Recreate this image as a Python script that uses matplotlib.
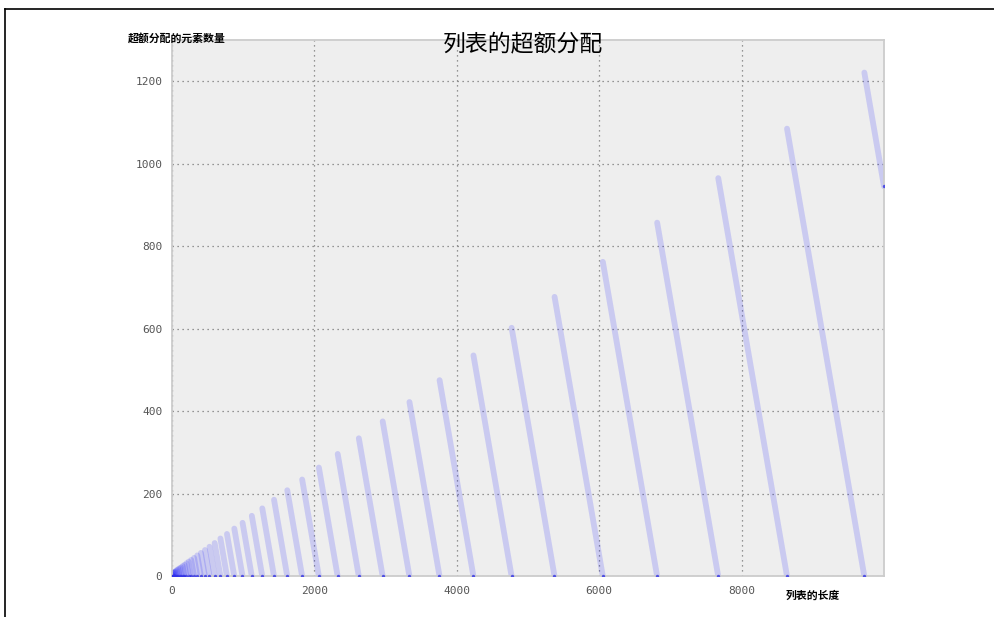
import matplotlib
matplotlib.use('Agg')
import matplotlib.pyplot as plt
from matplotlib.lines import Line2D

plt.rcParams['font.family'] = ['Noto Sans CJK SC', 'DejaVu Sans']

# 列表长度达到这些值时发生扩容, 以及扩容后的超额分配数量
resize_len = [1, 5, 9, 17, 26, 36, 47, 59, 73, 89, 107, 127, 149, 174, 202, 234,
              270, 310, 355, 406, 463, 527, 599, 680, 772, 875, 991, 1121, 1268,
              1433, 1619, 1828, 2063, 2327, 2624, 2959, 3335, 3758, 4234, 4770,
              5373, 6051, 6814, 7672, 8638, 9724]
over_alloc = [3, 3, 7, 8, 9, 10, 11, 13, 15, 17, 19, 21, 24, 27, 31, 35,
              39, 44, 50, 56, 63, 71, 80, 91, 102, 115, 129, 146, 164,
              185, 208, 234, 263, 296, 334, 375, 422, 475, 535, 602,
              677, 762, 857, 965, 1085, 1221]
max_len = 10000

fig = plt.figure(figsize=(9.95, 6.17), dpi=100)
ax = fig.add_axes([172/995, 41/617, 712/995, 536/617])
ax.set_facecolor('#eeeeee')

zx, zy = [], []
for L, p in zip(resize_len, over_alloc):
    end = min(L + p, max_len)
    ax.plot([L, end], [p, p - (end - L)], color='blue', alpha=0.15, lw=4.2,
            solid_capstyle='round', zorder=2)
    zx.append(end)
    zy.append(p - (end - L))
ax.scatter(zx, zy, s=6, color='#3030e8', alpha=0.8, zorder=3, linewidths=0)

ax.set_xlim(0, 10000)
ax.set_ylim(0, 1300)
ax.set_xticks([0, 2000, 4000, 6000, 8000])
ax.set_yticks([0, 200, 400, 600, 800, 1000, 1200])
ax.grid(True, linestyle=(0, (1, 3)), color='#777777', lw=0.9)
ax.set_axisbelow(True)
ax.tick_params(length=0, pad=7, labelsize=8, labelcolor='#555555')
for lab in ax.get_xticklabels() + ax.get_yticklabels():
    lab.set_family('DejaVu Sans Mono')
for s in ax.spines.values():
    s.set_color('#cccccc')
    s.set_linewidth(1.3)

fig.text(523/995, 1 - 44/617, '列表的超额分配', ha='center', va='center', fontsize=16.5)
fig.text(128/995, 1 - 38/617, '超额分配的元素数量', ha='left', va='center',
         fontsize=7.8, fontweight='bold')
fig.text(813/995, 1 - 596/617, '列表的长度', ha='center', va='center',
         fontsize=7.8, fontweight='bold')

# 截图上的边框
fig.add_artist(Line2D([5/995, 1], [1 - 9/617, 1 - 9/617], color='black', lw=1.2))
fig.add_artist(Line2D([5/995, 5/995], [0, 1 - 9/617], color='black', lw=1.2))

fig.savefig('out.png', dpi=100)
